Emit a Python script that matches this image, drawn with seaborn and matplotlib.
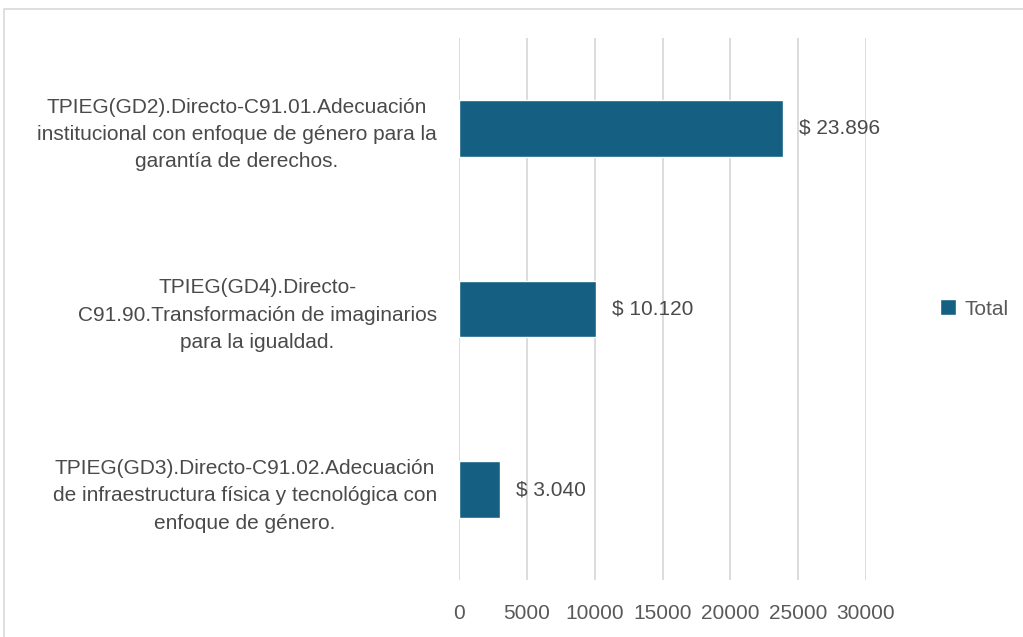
import numpy as np
import pandas as pd
import matplotlib
matplotlib.use("Agg")
import matplotlib.pyplot as plt
import seaborn as sns
from matplotlib.patches import Rectangle

categories = [
    "TPIEG(GD2).Directo-C91.01.Adecuación\ninstitucional con enfoque de género para la\ngarantía de derechos.",
    "TPIEG(GD4).Directo-\nC91.90.Transformación de imaginarios\npara la igualdad.",
    "TPIEG(GD3).Directo-C91.02.Adecuación\nde infraestructura física y tecnológica con\nenfoque de género.",
]
totals = [23896, 10120, 3040]
value_labels = ["$ 23.896", "$ 10.120", "$ 3.040"]
x_ticks = [0, 5000, 10000, 15000, 20000, 25000, 30000]

bar_color = "#156082"
grid_color = "#d9d9d9"
text_color = "#4a4a4a"
tick_color = "#595959"
fs = 15

sns.set_theme(style="white")
plt.rcParams["font.family"] = ["Liberation Sans", "DejaVu Sans"]

df = pd.DataFrame({"category": categories, "Total": totals})

fig = plt.figure(figsize=(10.23, 6.37), dpi=100)
ax = fig.add_axes([459 / 1023, 57 / 637, (866 - 459) / 1023, (599 - 57) / 637])

sns.barplot(data=df, y="category", x="Total", orient="h", color=bar_color,
            width=0.315, saturation=1, ax=ax, label="Total", zorder=3)

ax.set_xlim(0, 30000)
ax.set_xticks(x_ticks)
ax.set_xticklabels([str(t) for t in x_ticks], fontsize=fs, color=tick_color)
ax.tick_params(axis="x", length=0, pad=17)
ax.tick_params(axis="y", length=0, pad=16)
for lbl in ax.get_yticklabels():
    lbl.set_multialignment("center")
    lbl.set_fontsize(fs)
    lbl.set_color(text_color)
    lbl.set_linespacing(1.55)

ax.grid(axis="x", color=grid_color, linewidth=1.3, zorder=0)
for s in ax.spines.values():
    s.set_visible(False)
ax.set_xlabel("")
ax.set_ylabel("")

for i, (v, t) in enumerate(zip(totals, value_labels)):
    ax.text(v + 1150, i, t, va="center", ha="left", fontsize=fs, color=text_color)

leg = ax.legend(loc="center left", bbox_to_anchor=(1.135, 0.5), frameon=False,
                handlelength=0.8, handleheight=0.8, handletextpad=0.4,
                fontsize=fs)
for txt in leg.get_texts():
    txt.set_color(tick_color)

fig.patches.append(Rectangle((4 / 1023, -0.1), 1.1, 1 - 9 / 637 + 0.1,
                             transform=fig.transFigure, fill=False,
                             edgecolor=grid_color, linewidth=1.2))

fig.savefig("out.png", dpi=100)
